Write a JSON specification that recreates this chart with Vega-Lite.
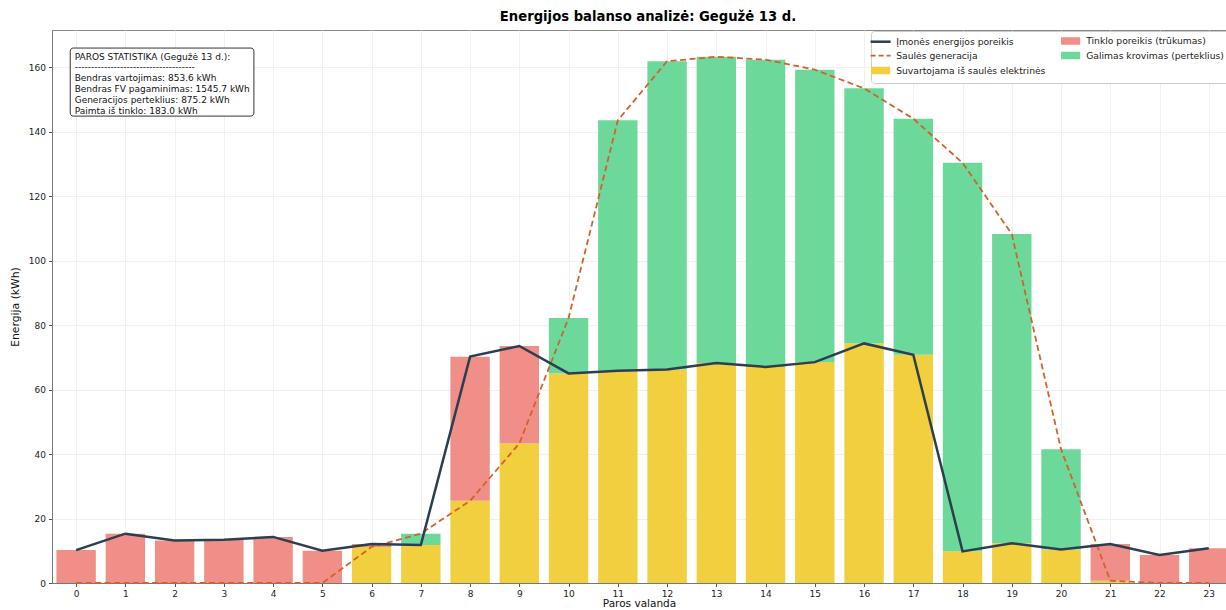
{
  "$schema": "https://vega.github.io/schema/vega-lite/v6.json",
  "width": 1174,
  "height": 553,
  "autosize": {"type": "none"},
  "padding": {"left": 52, "top": 30, "right": 0, "bottom": 27},
  "background": "white",
  "title": {"text": "Energijos balanso analizė: Gegužė 13 d.", "font": "DejaVu Sans", "fontSize": 13.2, "fontWeight": "bold", "color": "#000", "anchor": "middle", "offset": 6, "dx": 9},
  "config": {
    "font": "DejaVu Sans",
    "view": {"stroke": "#888", "strokeWidth": 1},
    "axis": {"labelFont": "DejaVu Sans", "labelFontSize": 9, "labelColor": "#222", "titleFont": "DejaVu Sans", "titleFontSize": 10.8, "titleFontWeight": "normal", "titleColor": "#111", "domainColor": "#777", "tickColor": "#555", "tickSize": 3.5, "gridColor": "#f0f0f0", "gridWidth": 1}
  },
  "datasets": {
    "bars": [
      {"hour": 0, "cat": "Tinklo poreikis (trūkumas)", "kwh": 10.2, "seg": 2},
      {"hour": 1, "cat": "Tinklo poreikis (trūkumas)", "kwh": 15.3, "seg": 2},
      {"hour": 2, "cat": "Tinklo poreikis (trūkumas)", "kwh": 13.2, "seg": 2},
      {"hour": 3, "cat": "Tinklo poreikis (trūkumas)", "kwh": 13.4, "seg": 2},
      {"hour": 4, "cat": "Tinklo poreikis (trūkumas)", "kwh": 14.3, "seg": 2},
      {"hour": 5, "cat": "Tinklo poreikis (trūkumas)", "kwh": 10.0, "seg": 2},
      {"hour": 6, "cat": "Suvartojama iš saulės elektrinės", "kwh": 11.2, "seg": 1},
      {"hour": 6, "cat": "Tinklo poreikis (trūkumas)", "kwh": 0.9, "seg": 2},
      {"hour": 7, "cat": "Suvartojama iš saulės elektrinės", "kwh": 11.8, "seg": 1},
      {"hour": 7, "cat": "Galimas krovimas (perteklius)", "kwh": 3.5, "seg": 3},
      {"hour": 8, "cat": "Suvartojama iš saulės elektrinės", "kwh": 25.5, "seg": 1},
      {"hour": 8, "cat": "Tinklo poreikis (trūkumas)", "kwh": 44.7, "seg": 2},
      {"hour": 9, "cat": "Suvartojama iš saulės elektrinės", "kwh": 43.3, "seg": 1},
      {"hour": 9, "cat": "Tinklo poreikis (trūkumas)", "kwh": 30.2, "seg": 2},
      {"hour": 10, "cat": "Suvartojama iš saulės elektrinės", "kwh": 65.0, "seg": 1},
      {"hour": 10, "cat": "Galimas krovimas (perteklius)", "kwh": 17.2, "seg": 3},
      {"hour": 11, "cat": "Suvartojama iš saulės elektrinės", "kwh": 65.8, "seg": 1},
      {"hour": 11, "cat": "Galimas krovimas (perteklius)", "kwh": 77.7, "seg": 3},
      {"hour": 12, "cat": "Suvartojama iš saulės elektrinės", "kwh": 66.2, "seg": 1},
      {"hour": 12, "cat": "Galimas krovimas (perteklius)", "kwh": 95.6, "seg": 3},
      {"hour": 13, "cat": "Suvartojama iš saulės elektrinės", "kwh": 68.2, "seg": 1},
      {"hour": 13, "cat": "Galimas krovimas (perteklius)", "kwh": 95.0, "seg": 3},
      {"hour": 14, "cat": "Suvartojama iš saulės elektrinės", "kwh": 67.0, "seg": 1},
      {"hour": 14, "cat": "Galimas krovimas (perteklius)", "kwh": 95.3, "seg": 3},
      {"hour": 15, "cat": "Suvartojama iš saulės elektrinės", "kwh": 68.5, "seg": 1},
      {"hour": 15, "cat": "Galimas krovimas (perteklius)", "kwh": 90.7, "seg": 3},
      {"hour": 16, "cat": "Suvartojama iš saulės elektrinės", "kwh": 74.3, "seg": 1},
      {"hour": 16, "cat": "Galimas krovimas (perteklius)", "kwh": 79.1, "seg": 3},
      {"hour": 17, "cat": "Suvartojama iš saulės elektrinės", "kwh": 70.8, "seg": 1},
      {"hour": 17, "cat": "Galimas krovimas (perteklius)", "kwh": 73.2, "seg": 3},
      {"hour": 18, "cat": "Suvartojama iš saulės elektrinės", "kwh": 9.8, "seg": 1},
      {"hour": 18, "cat": "Galimas krovimas (perteklius)", "kwh": 120.5, "seg": 3},
      {"hour": 19, "cat": "Suvartojama iš saulės elektrinės", "kwh": 12.3, "seg": 1},
      {"hour": 19, "cat": "Galimas krovimas (perteklius)", "kwh": 95.9, "seg": 3},
      {"hour": 20, "cat": "Suvartojama iš saulės elektrinės", "kwh": 10.4, "seg": 1},
      {"hour": 20, "cat": "Galimas krovimas (perteklius)", "kwh": 31.1, "seg": 3},
      {"hour": 21, "cat": "Suvartojama iš saulės elektrinės", "kwh": 0.7, "seg": 1},
      {"hour": 21, "cat": "Tinklo poreikis (trūkumas)", "kwh": 11.4, "seg": 2},
      {"hour": 22, "cat": "Tinklo poreikis (trūkumas)", "kwh": 8.7, "seg": 2},
      {"hour": 23, "cat": "Tinklo poreikis (trūkumas)", "kwh": 10.8, "seg": 2}
    ],
    "lines": [
      {"hour": 0, "demand": 10.2, "solar": 0},
      {"hour": 1, "demand": 15.3, "solar": 0},
      {"hour": 2, "demand": 13.2, "solar": 0},
      {"hour": 3, "demand": 13.4, "solar": 0},
      {"hour": 4, "demand": 14.3, "solar": 0},
      {"hour": 5, "demand": 10.0, "solar": 0},
      {"hour": 6, "demand": 12.1, "solar": 11.2},
      {"hour": 7, "demand": 11.8, "solar": 15.3},
      {"hour": 8, "demand": 70.2, "solar": 25.5},
      {"hour": 9, "demand": 73.5, "solar": 43.3},
      {"hour": 10, "demand": 65.0, "solar": 82.2},
      {"hour": 11, "demand": 65.8, "solar": 143.5},
      {"hour": 12, "demand": 66.2, "solar": 161.8},
      {"hour": 13, "demand": 68.2, "solar": 163.2},
      {"hour": 14, "demand": 67.0, "solar": 162.3},
      {"hour": 15, "demand": 68.5, "solar": 159.2},
      {"hour": 16, "demand": 74.3, "solar": 153.4},
      {"hour": 17, "demand": 70.8, "solar": 144.0},
      {"hour": 18, "demand": 9.8, "solar": 130.3},
      {"hour": 19, "demand": 12.3, "solar": 108.2},
      {"hour": 20, "demand": 10.4, "solar": 41.5},
      {"hour": 21, "demand": 12.1, "solar": 0.7},
      {"hour": 22, "demand": 8.7, "solar": 0},
      {"hour": 23, "demand": 10.8, "solar": 0}
    ],
    "stats": [
      {"txt": "PAROS STATISTIKA (Gegužė 13 d.):\n-------------------------------------\nBendras vartojimas: 853.6 kWh\nBendras FV pagaminimas: 1545.7 kWh\nGeneracijos perteklius: 875.2 kWh\nPaimta iš tinklo: 183.0 kWh"}
    ]
  },
  "layer": [
    {
      "data": {"name": "bars"},
      "mark": {"type": "bar", "size": 39.4},
      "encoding": {
        "x": {"field": "hour", "type": "quantitative", "title": "Paros valanda",
              "scale": {"domain": [-0.49, 23.35], "nice": false, "zero": false, "padding": 0},
              "axis": {"values": [0,1,2,3,4,5,6,7,8,9,10,11,12,13,14,15,16,17,18,19,20,21,22,23], "grid": true, "titlePadding": 0, "titleFontSize": 10.5, "labelPadding": 3}},
        "y": {"field": "kwh", "type": "quantitative", "stack": "zero", "title": "Energija (kWh)",
              "scale": {"domain": [0, 171.5], "nice": false, "padding": 0},
              "axis": {"values": [0,20,40,60,80,100,120,140,160], "grid": true, "titlePadding": 8, "labelPadding": 3}},
        "order": {"field": "seg", "type": "quantitative"},
        "color": {
          "field": "cat", "type": "nominal",
          "scale": {
            "domain": ["Įmonės energijos poreikis", "Saulės generacija", "Suvartojama iš saulės elektrinės", "Tinklo poreikis (trūkumas)", "Galimas krovimas (perteklius)"],
            "range": ["#2c3e50", "#d4612a", "#f2cf3e", "#ef8f87", "#6cd99b"]
          },
          "legend": {
            "title": null, "orient": "none", "legendX": 819, "legendY": 1, "columns": 2,
            "columnPadding": 12, "rowPadding": 1, "padding": 5,
            "labelFont": "DejaVu Sans", "labelFontSize": 9.2, "labelColor": "#222", "labelOffset": 11,
            "symbolSize": 400, "strokeColor": "#cccccc", "fillColor": "white", "cornerRadius": 3,
            "encode": {
              "symbols": {
                "update": {
                  "shape": {"signal": "datum.value === 'Įmonės energijos poreikis' || datum.value === 'Saulės generacija' ? 'stroke' : 'M-1,-0.33H1V0.33H-1Z'"},
                  "size": {"signal": "datum.value === 'Įmonės energijos poreikis' || datum.value === 'Saulės generacija' ? 400 : 300"},
                  "fill": {"signal": "datum.value === 'Įmonės energijos poreikis' || datum.value === 'Saulės generacija' ? 'transparent' : scale('color', datum.value)"},
                  "stroke": {"signal": "datum.value === 'Įmonės energijos poreikis' || datum.value === 'Saulės generacija' ? scale('color', datum.value) : 'transparent'"},
                  "strokeWidth": {"signal": "datum.value === 'Įmonės energijos poreikis' ? 2.5 : 1.8"},
                  "strokeDash": {"signal": "datum.value === 'Saulės generacija' ? [5, 3] : []"},
                  "opacity": {"value": 1}
                }
              }
            }
          }
        }
      }
    },
    {
      "data": {"name": "lines"},
      "mark": {"type": "line", "strokeDash": [6, 3.5], "strokeWidth": 1.8},
      "encoding": {
        "x": {"field": "hour", "type": "quantitative", "title": "Paros valanda"},
        "y": {"field": "solar", "type": "quantitative", "title": "Energija (kWh)"},
        "color": {"datum": "Saulės generacija"}
      }
    },
    {
      "data": {"name": "lines"},
      "mark": {"type": "line", "strokeWidth": 2.5},
      "encoding": {
        "x": {"field": "hour", "type": "quantitative", "title": "Paros valanda"},
        "y": {"field": "demand", "type": "quantitative", "title": "Energija (kWh)"},
        "color": {"datum": "Įmonės energijos poreikis"}
      }
    },
    {
      "data": {"name": "stats"},
      "mark": {"type": "rect", "fill": "white", "stroke": "#333", "strokeWidth": 1, "cornerRadius": 3},
      "encoding": {
        "x": {"datum": -0.12, "type": "quantitative"},
        "x2": {"datum": 3.61},
        "y": {"datum": 165.9, "type": "quantitative"},
        "y2": {"datum": 144.8}
      }
    },
    {
      "data": {"name": "stats"},
      "mark": {"type": "text", "align": "left", "baseline": "top", "lineBreak": "\n", "font": "DejaVu Sans", "fontSize": 9, "lineHeight": 10.9, "color": "#111"},
      "encoding": {
        "x": {"datum": -0.03, "type": "quantitative"},
        "y": {"datum": 164.5, "type": "quantitative"},
        "text": {"field": "txt"}
      }
    }
  ]
}
